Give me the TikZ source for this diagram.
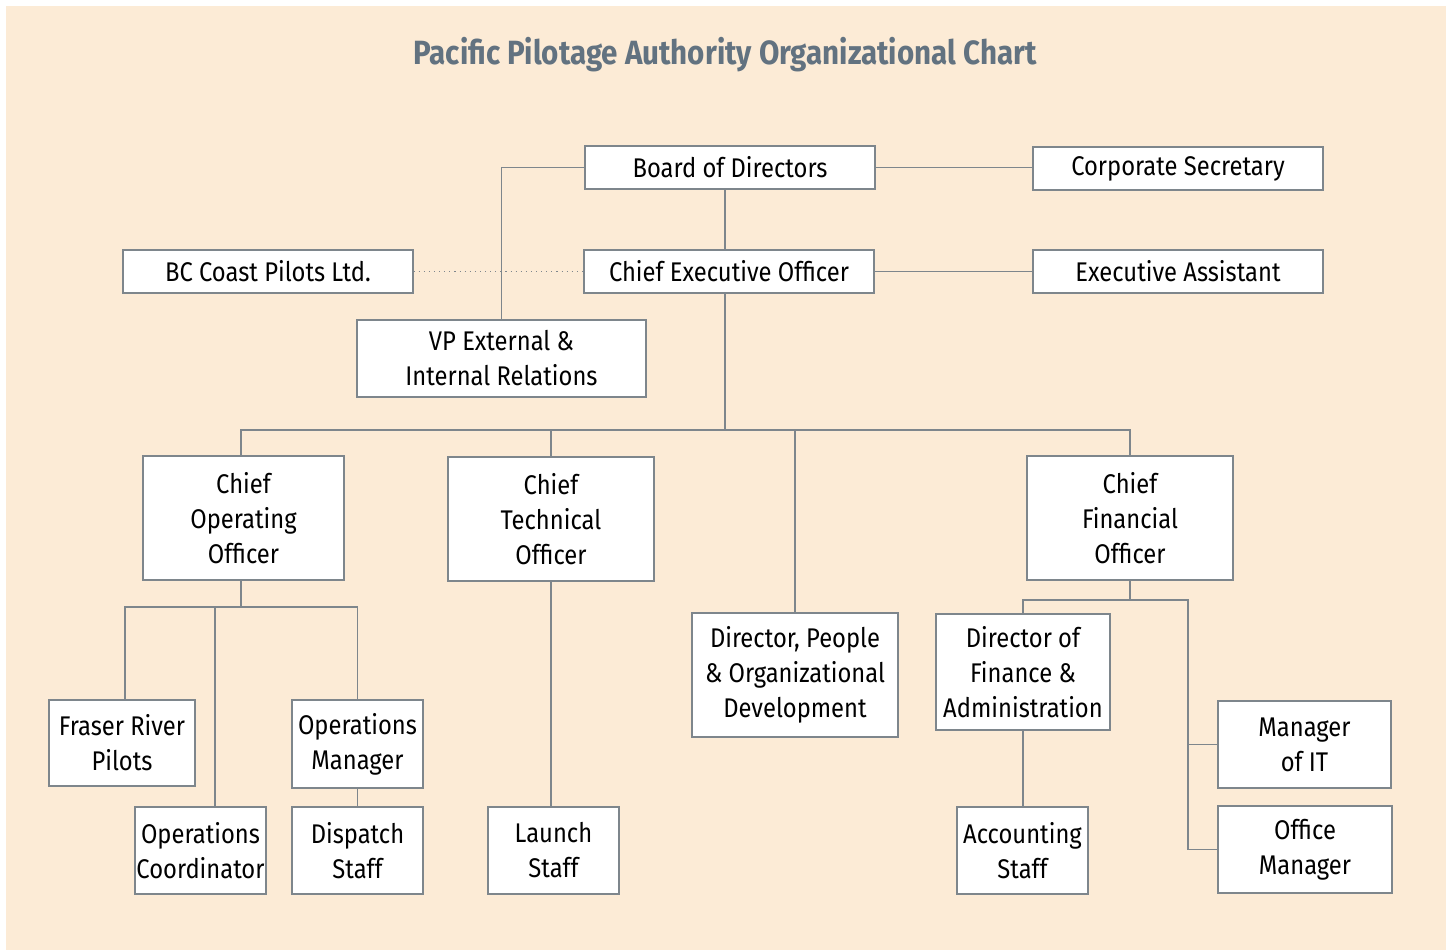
\documentclass[tikz,border=0pt]{standalone}
\usepackage{fontspec}
\setmainfont{Fira Sans}[FakeStretch=0.88]
\usetikzlibrary{calc}
\definecolor{bgbeige}{HTML}{FCEBD6}
\definecolor{titlegray}{HTML}{627280}
\definecolor{edgegray}{HTML}{7E868C}
\tikzset{
	box/.style={draw=edgegray, line width=0.6pt, fill=white, inner sep=0pt, align=center,
		font=\fontsize{13.5}{17.5}\selectfont},
	link/.style={draw=edgegray, line width=0.55pt},
}

\begin{document}
\begin{tikzpicture}[x=0.5pt, y=-0.5pt]
		%%%%% START %%%%%
		\useasboundingbox (0, 0) rectangle (1453, 950);
		\fill[white] (0, 0) rectangle (1453, 950);
		\fill[bgbeige] (6, 6) rectangle (1446, 950);
		
		\node[font=\fontsize{16.8}{20}\selectfont\bfseries, text=titlegray] (title) at (725, 55) {Pacific Pilotage Authority Organizational Chart};
		
		% top level
		\node[box, minimum width=145pt, minimum height=21.5pt] (board) at (730, 167.5) {Board of Directors};
		\node[box, minimum width=145pt, minimum height=21.5pt] (corpsec) at (1178, 168.5) {Corporate Secretary};
		\node[box, minimum width=145pt, minimum height=21.5pt] (ceo) at (729, 271.5) {Chief Executive Officer};
		\node[box, minimum width=145pt, minimum height=21.5pt] (bccoast) at (268, 271.5) {BC Coast Pilots Ltd.};
		\node[box, minimum width=145pt, minimum height=21.5pt] (execasst) at (1178, 271.5) {Executive Assistant};
		\node[box, minimum width=144.5pt, minimum height=38.5pt] (vp) at (501.5, 358.5) {VP External \&\\Internal Relations};
		
		% chiefs
		\node[box, minimum width=100.5pt, minimum height=62pt] (coo) at (243.5, 518) {Chief\\Operating\\Officer};
		\node[box, minimum width=103pt, minimum height=62pt] (cto) at (551, 519) {Chief\\Technical\\Officer};
		\node[box, minimum width=103pt, minimum height=62pt] (dpod) at (795, 675) {Director, People\\\& Organizational\\Development};
		\node[box, minimum width=103pt, minimum height=62pt] (cfo) at (1130, 518) {Chief\\Financial\\Officer};
		
		% operations
		\node[box, minimum width=73pt, minimum height=43pt] (fraser) at (122, 743) {Fraser River\\Pilots};
		\node[box, minimum width=65.5pt, minimum height=44pt] (opsmgr) at (357.5, 744) {Operations\\Manager};
		\node[box, minimum width=65.5pt, minimum height=43.5pt] (opscoord) at (200.5, 850.5) {Operations\\Coordinator};
		\node[box, minimum width=65.5pt, minimum height=43.5pt] (dispatch) at (357.5, 850.5) {Dispatch\\Staff};
		\node[box, minimum width=65.5pt, minimum height=43.5pt] (launch) at (553.5, 850.5) {Launch\\Staff};
		
		% finance
		\node[box, minimum width=87pt, minimum height=58pt] (dirfin) at (1023, 672) {Director of\\Finance \&\\Administration};
		\node[box, minimum width=65.5pt, minimum height=43.5pt] (acct) at (1022.5, 850.5) {Accounting\\Staff};
		\node[box, minimum width=86.5pt, minimum height=43.5pt] (itmgr) at (1304.5, 744.5) {Manager\\of IT};
		\node[box, minimum width=87pt, minimum height=43.5pt] (offmgr) at (1305, 849.5) {Office\\Manager};
		
		% junctions
		\coordinate (busceo) at (725, 430);
		\coordinate (buscoo) at (241, 607);
		\coordinate (buscfo) at (1188, 600);
		
		% links
		\draw[link] (board.south -| busceo) -- (ceo.north -| busceo);
		\draw[link] (board.east) -- (corpsec.west |- board.east);
		\draw[link] (board.west) -| (vp.north);
		\draw[link] (ceo.east) -- (execasst.west);
		\draw[link, dotted] (bccoast.east) -- (ceo.west);
		
		\draw[link] (ceo.south -| busceo) -- (busceo);
		\draw[link] (coo.north -| buscoo) -- (buscoo |- busceo) -- (cfo.north |- busceo) -- (cfo.north);
		\draw[link] (cto.north) -- (cto.north |- busceo);
		\draw[link] (dpod.north) -- (dpod.north |- busceo);
		
		\draw[link] (coo.south -| buscoo) -- (buscoo);
		\draw[link] ([xshift=1.5pt]fraser.north) |- (opsmgr.north |- buscoo) -- (opsmgr.north);
		\draw[link] ([xshift=7.25pt]opscoord.north) -- ([xshift=7.25pt]opscoord.north |- buscoo);
		\draw[link] (opsmgr.south) -- (dispatch.north);
		\draw[link] (cto.south) -- (cto.south |- launch.north);
		
		\draw[link] (cfo.south) -- (cfo.south |- buscfo);
		\draw[link] (dirfin.north) |- (buscfo) |- (offmgr.west);
		\draw[link] (buscfo |- itmgr.west) -- (itmgr.west);
		\draw[link] (dirfin.south) -- (dirfin.south |- acct.north);
		
		%%%%% END %%%%%
\end{tikzpicture}
\end{document}
